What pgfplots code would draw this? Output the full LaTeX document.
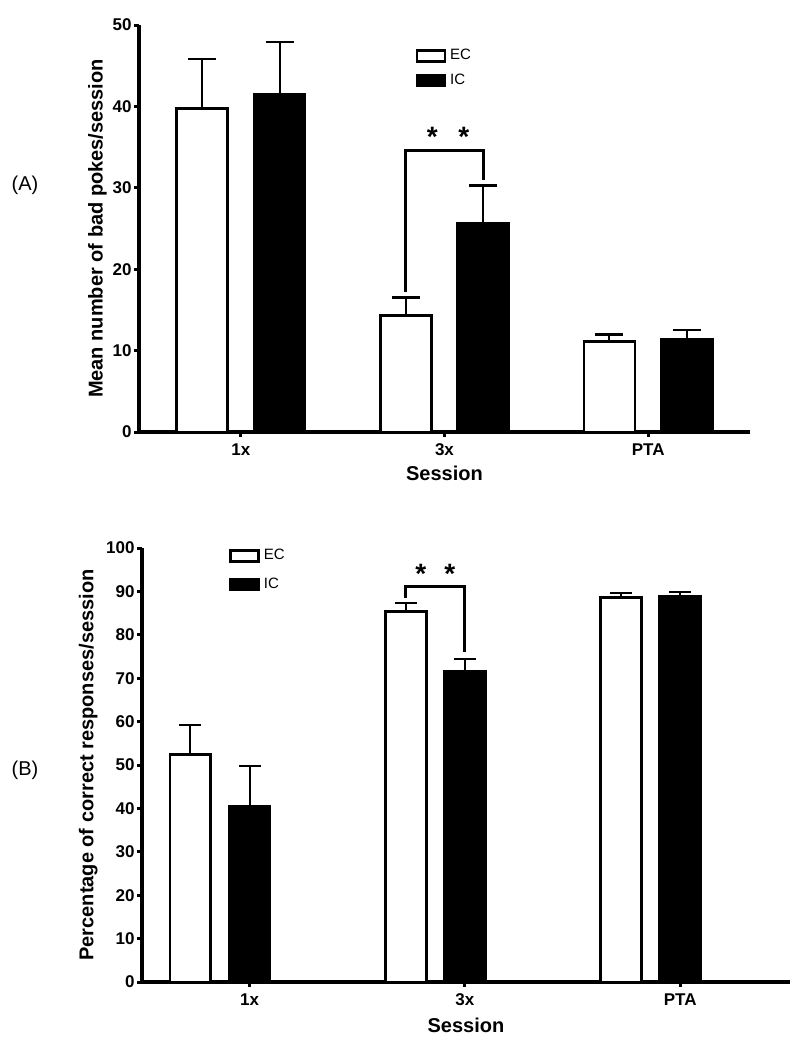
\documentclass[border=0pt]{standalone}
\usepackage{fontspec}
\setmainfont{Liberation Sans}
\usepackage{pgfplots}
\pgfplotsset{compat=1.18}
\begin{document}
\begin{tikzpicture}
\useasboundingbox (0pt,0pt) rectangle (400pt,-522pt);
\node[font=\fontsize{10}{12}\selectfont] at (12.5pt,-92.5pt) {(A)};
\node[font=\fontsize{10}{12}\selectfont] at (12.5pt,-385pt) {(B)};
\pgfplotsset{
  myaxis/.style={
    scale only axis,
    clip=false,
    axis x line*=bottom, axis y line*=left,
    axis line style={line width=2.3pt, -},
    tick align=outside,
    major tick length=2.5pt,
    every tick/.style={line width=1.5pt, black},
    xtick={0,1,2}, xticklabels={1x,3x,PTA},
    ymin=0,
    /pgf/number format/assume math mode=true,
    x tick label style={font=\fontsize{8.5}{10}\selectfont\bfseries},
    y tick label style={font=\fontsize{8.5}{10}\selectfont\bfseries, inner xsep=1pt},
    label style={font=\fontsize{10}{12}\selectfont\bfseries},
    ybar,
    legend image code/.code={\draw[#1, line width=1.3pt] (0pt,-2.75pt) rectangle (14pt,2.75pt);},
    legend style={draw=none, fill=none, font=\fontsize{7.5}{9}\selectfont, inner sep=0pt, cells={anchor=west}},
  },
  ecbar/.style={fill=white, draw=black, line width=1.4pt,
    error bars/y dir=plus, error bars/y explicit,
    error bars/error bar style={line width=1pt, black},
    error bars/error mark options={rotate=90, line width=1.2pt, black, mark size=#1}},
  icbar/.style={fill=black, draw=black, line width=1.4pt,
    error bars/y dir=plus, error bars/y explicit,
    error bars/error bar style={line width=1pt, black},
    error bars/error mark options={rotate=90, line width=1.2pt, black, mark size=#1}},
}
% ---------- (A)
\begin{axis}[myaxis,
  at={(69.5pt,-216pt)}, anchor=south west,
  width=305.5pt, height=203.5pt,
  xmin=-0.5, xmax=2.5, ymax=50, ytick={0,10,...,50},
  ylabel={Mean number of bad pokes/session},
  xlabel={Session},
  ylabel style={at={(axis description cs:-0.068,0.5)}, anchor=center, rotate=0},
  xlabel style={at={(axis description cs:0.5,0)}, anchor=center, yshift=-20.5pt},
  legend style={at={(axis description cs:0.452,0.951)}, anchor=north west, row sep=1.5pt},
]
\addplot[ecbar=7pt, bar width=0.25, bar shift=-0.19] coordinates {
  (0,39.7) +- (0,6.1)
  (1,14.3) +- (0,2.2)
  (2,11.1) +- (0,0.9)
};
\addlegendentry{EC}
\addplot[icbar=7pt, bar width=0.25, bar shift=0.19] coordinates {
  (0,41.5) +- (0,6.4)
  (1,25.6) +- (0,4.7)
  (2,11.4) +- (0,1.1)
};
\addlegendentry{IC}
\draw[line width=1.5pt] (axis cs:0.81,17.2) |- (axis cs:1.19,34.6) -- (axis cs:1.19,30.9);
\node[font=\fontsize{14}{16}\selectfont\bfseries, anchor=base, inner sep=0pt] at (axis cs:0.94,35.1) {*};
\node[font=\fontsize{14}{16}\selectfont\bfseries, anchor=base, inner sep=0pt] at (axis cs:1.095,35.1) {*};
\end{axis}
% ---------- (B)
\begin{axis}[myaxis,
  at={(71pt,-491pt)}, anchor=south west,
  width=324pt, height=217pt,
  xmin=-0.5, xmax=2.51, ymax=100, ytick={0,10,...,100},
  ylabel={Percentage of correct responses/session},
  xlabel={Session},
  ylabel style={at={(axis description cs:-0.083,0.5)}, anchor=center, rotate=0},
  xlabel style={at={(axis description cs:0.5,0)}, anchor=center, yshift=-21.5pt},
  legend style={at={(axis description cs:0.134,1.007)}, anchor=north west, row sep=3.5pt},
]
\addplot[ecbar=5.5pt, bar width=0.19, bar shift=-0.275] coordinates {
  (0,52.4) +- (0,6.8)
  (1,85.3) +- (0,2.0)
  (2,88.6) +- (0,1.1)
};
\addlegendentry{EC}
\addplot[icbar=5.5pt, bar width=0.19, bar shift=0] coordinates {
  (0,40.5) +- (0,9.3)
  (1,71.6) +- (0,2.85)
  (2,88.8) +- (0,1.1)
};
\addlegendentry{IC}
\draw[line width=1.5pt] (axis cs:0.725,88.5) |- (axis cs:1.0,91.2) -- (axis cs:1.0,76);
\node[font=\fontsize{14}{16}\selectfont\bfseries, anchor=base, inner sep=0pt] at (axis cs:0.795,91.9) {*};
\node[font=\fontsize{14}{16}\selectfont\bfseries, anchor=base, inner sep=0pt] at (axis cs:0.93,91.9) {*};
\end{axis}
\end{tikzpicture}
\end{document}
